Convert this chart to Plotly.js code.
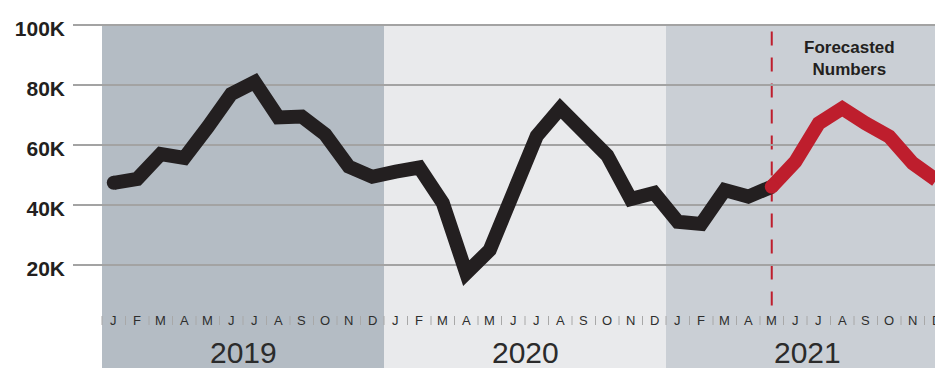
<!DOCTYPE html>
<html>
<head>
<meta charset="utf-8">
<script src="https://cdn.plot.ly/plotly-3.0.1.min.js"></script>
<style>html,body{margin:0;padding:0;background:#fff;overflow:hidden;}#wrap{width:935px;height:368px;overflow:hidden;}#chart{width:960px;height:368px;}</style>
</head>
<body>
<div id="wrap"><div id="chart"></div></div>
<script>
// ---- data ----
const years = ['2019', '2020', '2021'];
const monthLetters = ['J','F','M','A','M','J','J','A','S','O','N','D'];
const actualValues = [
  47400, 48700, 57000, 55700, 66000, 77000, 81000, 69200, 69500, 63500, 52800, 49400,
  51100, 52500, 40700, 17300, 25000, 44500, 63000, 72200, 64500, 56500, 42000, 44000,
  34400, 33700, 45000, 42800, 46100
];
const forecastValues = [46100, 54400, 67200, 72200, 67200, 62800, 53900, 48300];
const yTickValues = [20000, 40000, 60000, 80000, 100000];
const yTickLabels = ['20K', '40K', '60K', '80K', '100K'];
const forecastLabel = 'Forecasted<br>Numbers';
const yearColors = ['#b4bcc4', '#e9eaec', '#cacfd5'];

// ---- build ----
const actualX = actualValues.map((_, i) => i);
const forecastStart = actualValues.length - 1;
const forecastX = forecastValues.map((_, i) => forecastStart + i);

const traces = [
  {x: actualX, y: actualValues, type: 'scatter', mode: 'lines',
   line: {color: '#231f20', width: 14}, hoverinfo: 'skip'},
  {x: [actualX[0]], y: [actualValues[0]], type: 'scatter', mode: 'markers',
   marker: {color: '#231f20', size: 14}, hoverinfo: 'skip'},
  {x: forecastX, y: forecastValues, type: 'scatter', mode: 'lines',
   line: {color: '#be1e2d', width: 14}, hoverinfo: 'skip'},
  {x: [forecastX[0]], y: [forecastValues[0]], type: 'scatter', mode: 'markers',
   marker: {color: '#be1e2d', size: 14}, hoverinfo: 'skip'}
];

const yBottom = -14333, yTopData = 100000;
const shapes = [];
const annotations = [];
years.forEach((yr, k) => {
  shapes.push({type: 'rect', layer: 'below', xref: 'x', yref: 'y',
    x0: k * 12 - 0.5, x1: k * 12 + 11.5, y0: yBottom - 2000, y1: yTopData,
    fillcolor: yearColors[k], line: {width: 0}});
  annotations.push({text: yr, xref: 'x', yref: 'y', x: k * 12 + 5.5, y: -9000,
    showarrow: false, xanchor: 'center', yanchor: 'middle',
    font: {family: 'Liberation Sans, Arial, sans-serif', size: 30, color: '#2b2b2b'}});
  monthLetters.forEach((m, j) => {
    annotations.push({text: m, xref: 'x', yref: 'y', x: k * 12 + j, y: 1650,
      showarrow: false, xanchor: 'center', yanchor: 'middle',
      font: {family: 'Liberation Sans, Arial, sans-serif', size: 13, color: '#2e2e2e'}});
  });
});
for (let b = 0; b <= years.length * 12; b++) {
  shapes.push({type: 'line', layer: 'above', xref: 'x', yref: 'y',
    x0: b - 0.5, x1: b - 0.5, y0: 0, y1: 3000,
    line: {color: '#a8a8a8', width: 1}});
}
// forecast divider
shapes.push({type: 'line', layer: 'below', xref: 'x', yref: 'y',
  x0: forecastStart, x1: forecastStart, y0: 6500, y1: 98000,
  line: {color: '#be1e2d', width: 2, dash: '14px,12px'}});

annotations.push({text: forecastLabel, xref: 'x', yref: 'y', x: 31.3, y: 88700,
  showarrow: false, xanchor: 'center', yanchor: 'middle', align: 'center',
  font: {family: 'Liberation Sans, Arial, sans-serif', size: 17, color: '#231f20', weight: 'bold'}});

const pxPerMonth = 23.5;
const fullWidth = 960;
const leftPx = 73, firstYearPx = 102;
const xMin = -0.5 - (firstYearPx - leftPx) / pxPerMonth;
const xMax = xMin + (fullWidth - leftPx) / pxPerMonth;
const pxPerUnitY = 3 / 1000;
const topPad = 2;

const layout = {
  width: fullWidth, height: 368,
  margin: {l: 73, r: 0, t: 25 - topPad, b: 0, pad: 0},
  paper_bgcolor: '#ffffff', plot_bgcolor: 'rgba(0,0,0,0)',
  showlegend: false,
  xaxis: {range: [xMin, xMax], showgrid: false, zeroline: false,
    showticklabels: false, ticks: '', showline: false, fixedrange: true},
  yaxis: {range: [yBottom, yTopData + topPad / pxPerUnitY], tickvals: yTickValues, ticktext: yTickLabels,
    showgrid: true, gridcolor: '#a3a3a3', gridwidth: 2, zeroline: false,
    ticks: '', showline: false, ticklabelstandoff: 7, ticklabelshift: 4,
    tickfont: {family: 'Liberation Sans, Arial, sans-serif', size: 21, color: '#231f20', weight: 'bold'},
    fixedrange: true},
  shapes: shapes,
  annotations: annotations
};

Plotly.newPlot('chart', traces, layout, {staticPlot: true, displayModeBar: false});
</script>
</body>
</html>
